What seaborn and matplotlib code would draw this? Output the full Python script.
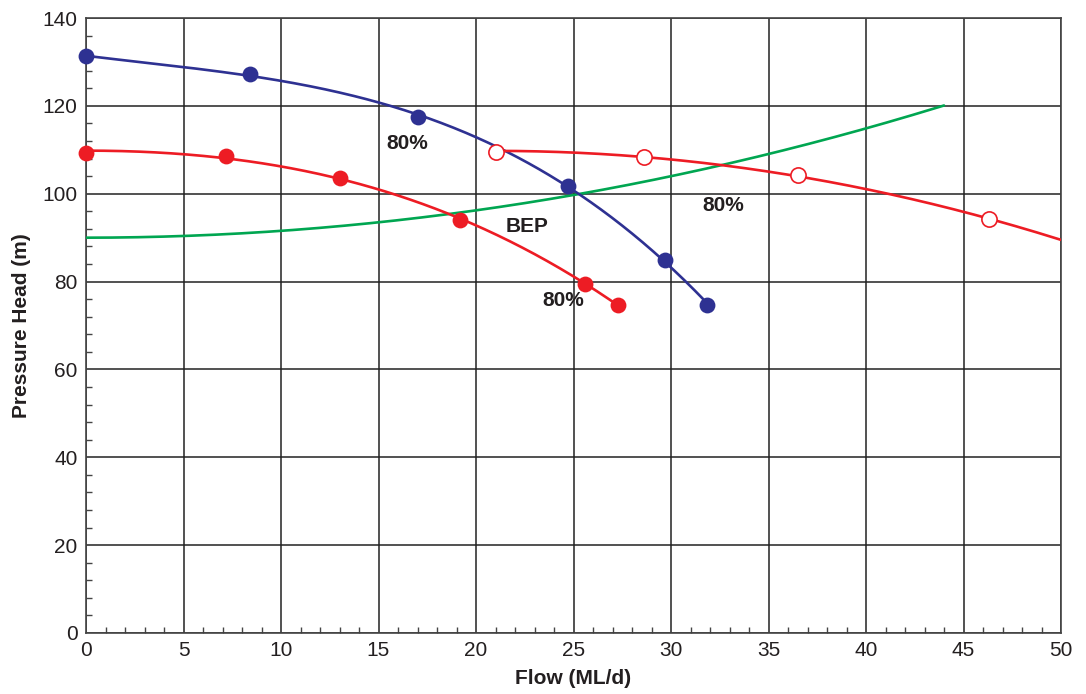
import numpy as np
import pandas as pd
import seaborn as sns
import matplotlib
matplotlib.use("Agg")
import matplotlib.pyplot as plt
from matplotlib.ticker import MultipleLocator

# ---- data ----
blue_flow = [0.0, 8.4, 17.0, 24.7, 29.7, 31.85]
blue_head = [131.3, 127.2, 117.5, 101.8, 84.9, 74.7]

red_flow = [0.0, 7.2, 13.0, 19.2, 25.6, 27.3]
red_head = [109.3, 108.6, 103.6, 94.0, 79.4, 74.7]

red_open_flow = [21.0, 28.6, 36.5, 46.3]
red_open_head = [109.5, 108.4, 104.3, 94.2]

system_flow = [0, 5, 10, 15, 20, 25, 30, 35, 40, 44]
system_head = [90.0, 90.4, 91.5, 93.5, 96.2, 99.7, 104.0, 109.0, 115.0, 120.0]

labels = ["80%", "BEP", "80%", "80%"]
label_x = [15.4, 21.5, 23.4, 31.6]
label_y = [111.5, 92.6, 75.6, 97.4]

BLUE = "#2e3192"
RED = "#ed1c24"
GREEN = "#00a651"
TXT = "#231f20"

sns.set_theme(style="white")
plt.rcParams["font.family"] = ["Liberation Sans", "DejaVu Sans"]

fig = plt.figure(figsize=(10.86, 6.94), dpi=100)
ax = fig.add_axes([86 / 1086, 1 - 633 / 694, (1061 - 86) / 1086, (633 - 18) / 694])


def fitted(xs, ys, powers, x0, x1):
    """Least-squares smooth curve through the markers using the given powers."""
    xs = np.asarray(xs, float)
    ys = np.asarray(ys, float)
    A = np.column_stack([(xs - xs[0]) ** p for p in powers])
    coef, *_ = np.linalg.lstsq(A, ys, rcond=None)
    xx = np.linspace(x0, x1, 300)
    B = np.column_stack([(xx - xs[0]) ** p for p in powers])
    return pd.DataFrame({"x": xx, "y": B @ coef})


lw = 1.9
d = fitted(system_flow, system_head, [0, 1, 2], system_flow[0], system_flow[-1])
sns.lineplot(data=d, x="x", y="y", ax=ax, color=GREEN, lw=lw, zorder=3)
d = fitted(blue_flow, blue_head, [0, 1, 2, 3], blue_flow[0], blue_flow[-1])
sns.lineplot(data=d, x="x", y="y", ax=ax, color=BLUE, lw=lw, zorder=3)
d = fitted(red_flow, red_head, [0, 2, 3], red_flow[0], red_flow[-1])
sns.lineplot(data=d, x="x", y="y", ax=ax, color=RED, lw=lw, zorder=3)
d = fitted(red_open_flow, red_open_head, [0, 2], red_open_flow[0], 50)
sns.lineplot(data=d, x="x", y="y", ax=ax, color=RED, lw=lw, zorder=3)

sns.scatterplot(x=blue_flow, y=blue_head, ax=ax, color=BLUE, s=130,
                edgecolor=BLUE, linewidth=0, zorder=5, clip_on=False)
sns.scatterplot(x=red_flow, y=red_head, ax=ax, color=RED, s=130,
                edgecolor=RED, linewidth=0, zorder=5, clip_on=False)
sns.scatterplot(x=red_open_flow, y=red_open_head, ax=ax, color="white", s=120,
                edgecolor=RED, linewidth=1.2, zorder=5)

for t, x, y in zip(labels, label_x, label_y):
    ax.text(x, y, t, fontsize=15, fontweight="bold", color=TXT,
            ha="left", va="center", zorder=6)

ax.set_xlim(0, 50)
ax.set_ylim(0, 140)
ax.xaxis.set_major_locator(MultipleLocator(5))
ax.xaxis.set_minor_locator(MultipleLocator(1))
ax.yaxis.set_major_locator(MultipleLocator(20))
ax.yaxis.set_minor_locator(MultipleLocator(4))
ax.grid(True, which="major", color="#222222", lw=1.1, zorder=1)
ax.set_axisbelow(True)
ax.tick_params(which="major", direction="in", length=0, labelsize=15,
               labelcolor=TXT, pad=6)
ax.tick_params(which="minor", direction="in", length=4, width=1.0,
               color="#444444", bottom=True, left=True)
for s in ax.spines.values():
    s.set_color("#444444")
    s.set_linewidth(1.2)

ax.set_xlabel("Flow (ML/d)", fontsize=15, fontweight="bold", color=TXT, labelpad=6)
ax.set_ylabel("Pressure Head (m)", fontsize=15, fontweight="bold", color=TXT, labelpad=8)

fig.savefig("out.png", dpi=100)
